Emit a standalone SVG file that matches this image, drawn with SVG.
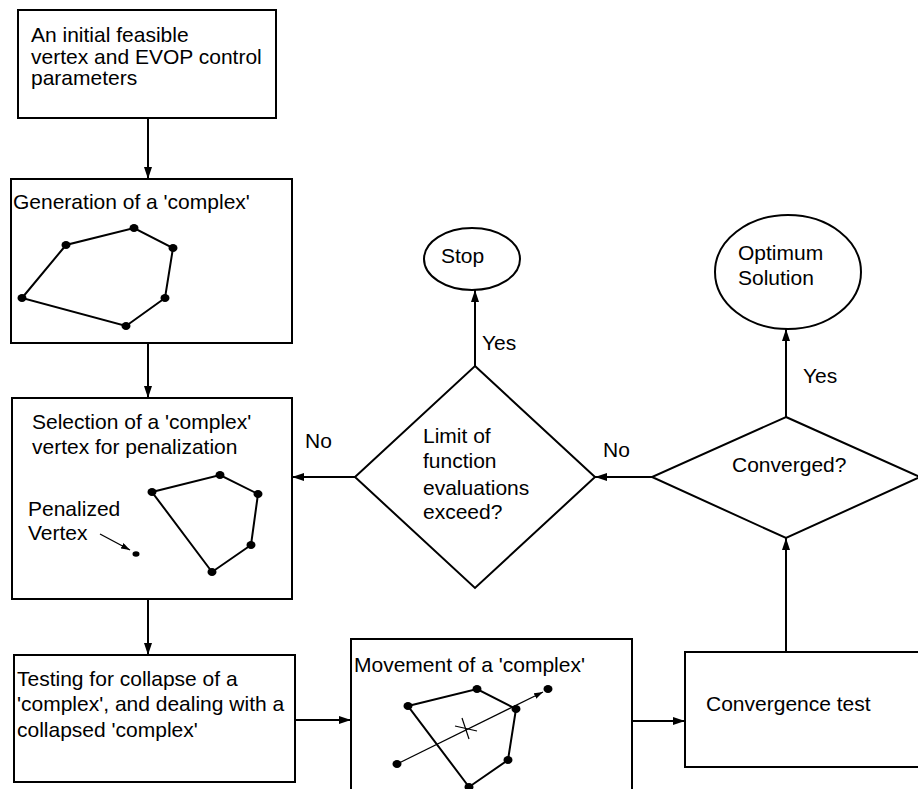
<svg xmlns="http://www.w3.org/2000/svg" width="918" height="789" viewBox="0 0 918 789">
<defs>
<style>
.bx{fill:#fff;stroke:#000;stroke-width:2}
.ln{fill:none;stroke:#000;stroke-width:2}
.thin{fill:none;stroke:#000;stroke-width:1.2}
.dot{fill:#000}
text{font-family:"Liberation Sans",Arial,sans-serif;font-size:21px;fill:#000}
</style>
<marker id="ah" markerUnits="userSpaceOnUse" markerWidth="13" markerHeight="9" refX="12" refY="4" orient="auto">
<path d="M0,0 L12,4 L0,8 z" fill="#000"/>
</marker>
<marker id="ahs" markerUnits="userSpaceOnUse" markerWidth="10" markerHeight="7" refX="9" refY="3" orient="auto">
<path d="M0,0 L9,3 L0,6 z" fill="#000"/>
</marker>
</defs>
<rect width="918" height="789" fill="#fff"/>

<g id="connectors">
<line class="ln" x1="148" y1="118" x2="148" y2="179" marker-end="url(#ah)"/>
<line class="ln" x1="148" y1="343" x2="148" y2="398" marker-end="url(#ah)"/>
<line class="ln" x1="148" y1="599" x2="148" y2="655" marker-end="url(#ah)"/>
<line class="ln" x1="295" y1="720" x2="351" y2="720" marker-end="url(#ah)"/>
<line class="ln" x1="632" y1="721" x2="685" y2="721" marker-end="url(#ah)"/>
<line class="ln" x1="786" y1="652" x2="786" y2="538" marker-end="url(#ah)"/>
<line class="ln" x1="786" y1="417" x2="786" y2="329" marker-end="url(#ah)"/>
<line class="ln" x1="652" y1="477" x2="595" y2="477" marker-end="url(#ah)"/>
<line class="ln" x1="475" y1="366" x2="475" y2="290" marker-end="url(#ah)"/>
<line class="ln" x1="355" y1="477" x2="292" y2="477" marker-end="url(#ah)"/>
<text x="482" y="350">Yes</text>
<text x="803" y="383">Yes</text>
<text x="305" y="448">No</text>
<text x="603" y="457">No</text>
</g>

<g id="start">
<rect class="bx" x="18" y="10" width="258" height="108"/>
<text x="31" y="42">An initial feasible</text>
<text x="31" y="64">vertex and EVOP control</text>
<text x="31" y="85">parameters</text>
</g>

<g id="generation">
<rect class="bx" x="11" y="179" width="281" height="164"/>
<text x="13" y="209">Generation of a 'complex'</text>
<polygon class="ln" points="22,298 66,245 134,228 173,248 165,298 126,326"/>
<g class="dot">
<ellipse cx="22" cy="298" rx="4.5" ry="4"/>
<ellipse cx="66" cy="245" rx="4.5" ry="4"/>
<ellipse cx="134" cy="228" rx="4.5" ry="4"/>
<ellipse cx="173" cy="248" rx="4.5" ry="4"/>
<ellipse cx="165" cy="298" rx="4.5" ry="4"/>
<ellipse cx="126" cy="326" rx="4.5" ry="4"/>
</g>
</g>

<g id="selection">
<rect class="bx" x="12" y="398" width="280" height="201"/>
<text x="32" y="429">Selection of a 'complex'</text>
<text x="32" y="454">vertex for penalization</text>
<text x="28" y="516">Penalized</text>
<text x="28" y="540">Vertex</text>
<line class="thin" x1="100" y1="534" x2="130" y2="550" marker-end="url(#ahs)"/>
<ellipse class="dot" cx="136" cy="554" rx="3.5" ry="2.7"/>
<polygon class="ln" points="152,492 220,475 258,494 251,545 212,572"/>
<g class="dot">
<ellipse cx="152" cy="492" rx="4.5" ry="4"/>
<ellipse cx="220" cy="475" rx="4.5" ry="4"/>
<ellipse cx="258" cy="494" rx="4.5" ry="4"/>
<ellipse cx="251" cy="545" rx="4.5" ry="4"/>
<ellipse cx="212" cy="572" rx="4.5" ry="4"/>
</g>
</g>

<g id="collapse">
<rect class="bx" x="14" y="655" width="281" height="127"/>
<text x="17" y="686">Testing for collapse of a</text>
<text x="17" y="711">'complex', and dealing with a</text>
<text x="17" y="737">collapsed 'complex'</text>
</g>

<g id="movement">
<rect class="bx" x="351" y="639" width="281" height="200"/>
<text x="354" y="672">Movement of a 'complex'</text>
<polygon class="ln" points="408,706 477,689 516,709 508,760 469,787"/>
<line class="thin" x1="397" y1="764" x2="543" y2="692" marker-end="url(#ahs)"/>
<line class="thin" x1="455" y1="726" x2="477" y2="731"/>
<line class="thin" x1="462" y1="718" x2="469" y2="739"/>
<g class="dot">
<ellipse cx="408" cy="706" rx="4.5" ry="4"/>
<ellipse cx="477" cy="689" rx="4.5" ry="4"/>
<ellipse cx="516" cy="709" rx="4.5" ry="4"/>
<ellipse cx="508" cy="760" rx="4.5" ry="4"/>
<ellipse cx="469" cy="787" rx="4.5" ry="4"/>
<ellipse cx="397" cy="764" rx="4.5" ry="4"/>
<ellipse cx="548" cy="689" rx="4.5" ry="4"/>
</g>
</g>

<g id="convergence">
<rect class="bx" x="685" y="652" width="260" height="115"/>
<text x="706" y="711">Convergence test</text>
</g>

<g id="converged">
<polygon class="bx" points="786,417 920,477 786,538 652,477"/>
<text x="732" y="472">Converged?</text>
</g>

<g id="optimum">
<ellipse class="bx" cx="788" cy="272" rx="73" ry="57"/>
<text x="738" y="260">Optimum</text>
<text x="738" y="285">Solution</text>
</g>

<g id="limit">
<polygon class="bx" points="475,366 595,477 475,588 355,477"/>
<text x="423" y="443">Limit of</text>
<text x="423" y="468">function</text>
<text x="423" y="495">evaluations</text>
<text x="423" y="519">exceed?</text>
</g>

<g id="stop">
<ellipse class="bx" cx="472" cy="259" rx="48" ry="31"/>
<text x="441" y="263">Stop</text>
</g>
</svg>
